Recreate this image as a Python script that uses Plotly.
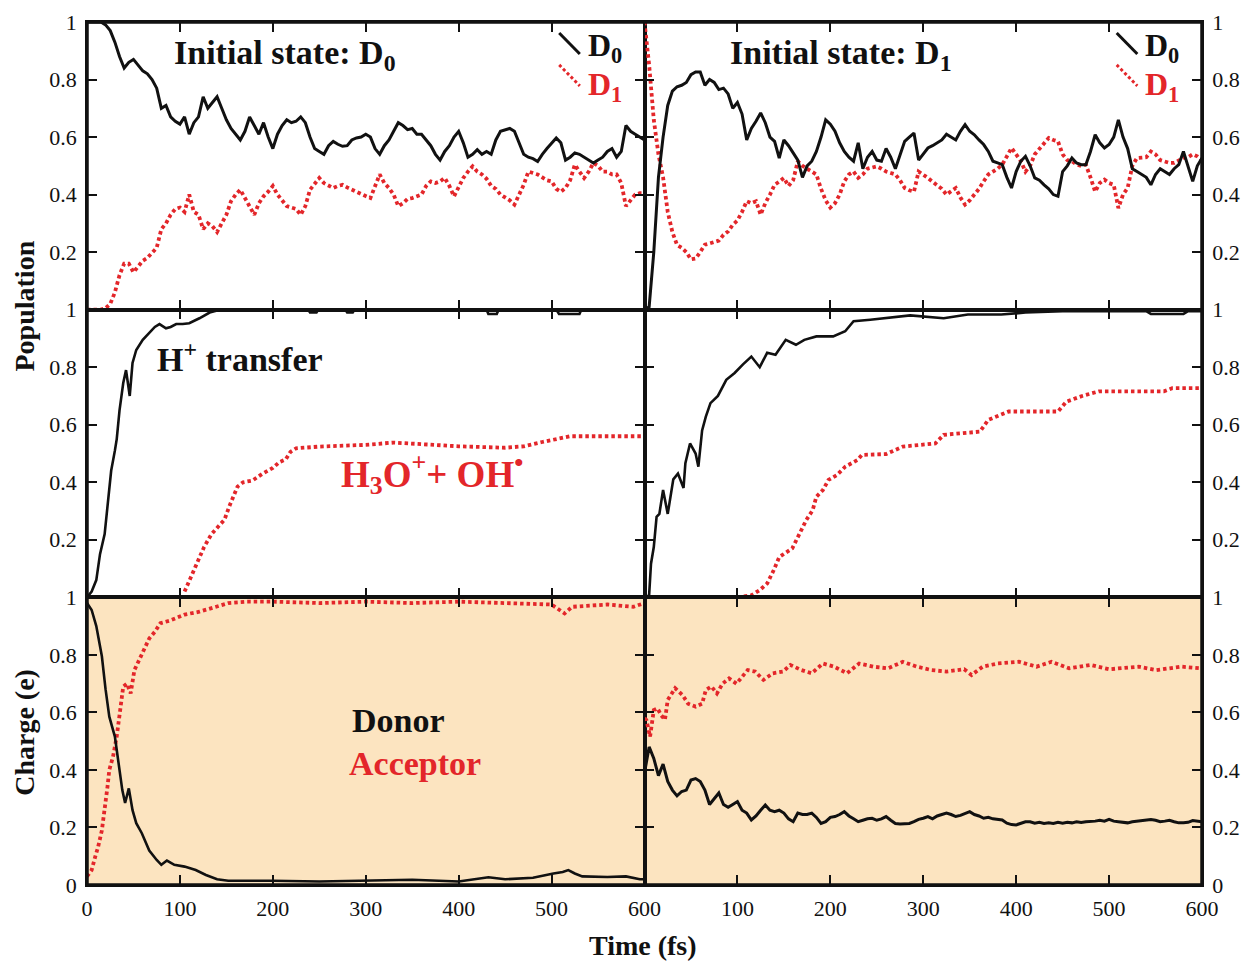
import plotly.graph_objects as go

# ---------------- data ----------------
TIME_5FS = list(range(0, 601, 5))

# Top row: populations, initial state D0 (left) and D1 (right), 5 fs grid
pop_D0_init_D0 = [1.0, 1.0, 1.0, 1.0, 0.99, 0.97, 0.93, 0.88, 0.84, 0.86,
                  0.87, 0.85, 0.83, 0.82, 0.80, 0.77, 0.70, 0.71, 0.67, 0.655,
                  0.645, 0.67, 0.61, 0.65, 0.67, 0.74, 0.70, 0.72, 0.74, 0.70,
                  0.66, 0.63, 0.61, 0.59, 0.62, 0.67, 0.64, 0.61, 0.65, 0.60,
                  0.56, 0.61, 0.64, 0.66, 0.65, 0.655, 0.67, 0.65, 0.60, 0.56,
                  0.55, 0.54, 0.57, 0.585, 0.575, 0.568, 0.57, 0.59, 0.597, 0.60,
                  0.61, 0.60, 0.56, 0.54, 0.57, 0.59, 0.62, 0.65, 0.64, 0.626,
                  0.63, 0.61, 0.61, 0.59, 0.57, 0.54, 0.52, 0.55, 0.57, 0.60,
                  0.62, 0.58, 0.53, 0.54, 0.556, 0.54, 0.55, 0.54, 0.59, 0.62,
                  0.625, 0.63, 0.62, 0.58, 0.54, 0.53, 0.525, 0.515, 0.54, 0.56,
                  0.58, 0.597, 0.58, 0.52, 0.53, 0.545, 0.54, 0.53, 0.52, 0.51,
                  0.52, 0.53, 0.55, 0.56, 0.53, 0.55, 0.64, 0.62, 0.61, 0.60,
                  0.59]
pop_D1_init_D0 = [0.0, 0.0, 0.0, 0.0, 0.005, 0.02, 0.06, 0.12, 0.16, 0.16,
                  0.13, 0.15, 0.17, 0.18, 0.20, 0.215, 0.28, 0.30, 0.33, 0.35,
                  0.355, 0.34, 0.40, 0.34, 0.33, 0.28, 0.30, 0.29, 0.27, 0.30,
                  0.33, 0.377, 0.40, 0.417, 0.39, 0.36, 0.33, 0.37, 0.394, 0.41,
                  0.43, 0.40, 0.38, 0.36, 0.355, 0.35, 0.33, 0.36, 0.417, 0.44,
                  0.458, 0.44, 0.43, 0.423, 0.43, 0.434, 0.425, 0.417, 0.41, 0.40,
                  0.395, 0.388, 0.43, 0.47, 0.44, 0.423, 0.40, 0.36, 0.37, 0.385,
                  0.388, 0.395, 0.40, 0.43, 0.446, 0.44, 0.446, 0.458, 0.43, 0.394,
                  0.43, 0.458, 0.48, 0.498, 0.48, 0.47, 0.455, 0.43, 0.42, 0.40,
                  0.39, 0.38, 0.365, 0.40, 0.434, 0.48, 0.475, 0.47, 0.46, 0.45,
                  0.446, 0.42, 0.41, 0.423, 0.45, 0.504, 0.48, 0.458, 0.48, 0.51,
                  0.50, 0.48, 0.48, 0.47, 0.47, 0.44, 0.36, 0.38, 0.40, 0.405,
                  0.405]
pop_D0_init_D1 = [0.0, 0.01, 0.20, 0.46, 0.60, 0.71, 0.76, 0.775, 0.78, 0.79,
                  0.817, 0.826, 0.826, 0.78, 0.80, 0.79, 0.765, 0.77, 0.75, 0.70,
                  0.72, 0.68, 0.59, 0.63, 0.655, 0.684, 0.65, 0.60, 0.585, 0.527,
                  0.59, 0.57, 0.545, 0.52, 0.46, 0.50, 0.516, 0.55, 0.60, 0.66,
                  0.645, 0.62, 0.58, 0.55, 0.53, 0.516, 0.58, 0.49, 0.53, 0.55,
                  0.52, 0.516, 0.56, 0.53, 0.49, 0.54, 0.585, 0.60, 0.614, 0.52,
                  0.54, 0.562, 0.57, 0.58, 0.59, 0.61, 0.60, 0.59, 0.62, 0.643,
                  0.62, 0.608, 0.59, 0.574, 0.55, 0.516, 0.51, 0.504, 0.46, 0.423,
                  0.48, 0.516, 0.533, 0.50, 0.458, 0.45, 0.434, 0.42, 0.40, 0.394,
                  0.48, 0.50, 0.527, 0.51, 0.504, 0.504, 0.55, 0.608, 0.58, 0.562,
                  0.574, 0.60, 0.66, 0.60, 0.56, 0.49, 0.48, 0.47, 0.46, 0.434,
                  0.47, 0.49, 0.48, 0.47, 0.49, 0.504, 0.55, 0.50, 0.446, 0.50,
                  0.527]
pop_D1_init_D1 = [1.0, 0.85, 0.66, 0.54, 0.46, 0.34, 0.27, 0.225, 0.215, 0.20,
                  0.175, 0.178, 0.20, 0.226, 0.23, 0.235, 0.24, 0.26, 0.272, 0.295,
                  0.31, 0.34, 0.377, 0.37, 0.377, 0.33, 0.37, 0.40, 0.434, 0.445,
                  0.458, 0.43, 0.45, 0.516, 0.50, 0.49, 0.48, 0.47, 0.42, 0.38,
                  0.355, 0.37, 0.40, 0.446, 0.47, 0.48, 0.458, 0.47, 0.49, 0.495,
                  0.498, 0.49, 0.48, 0.475, 0.47, 0.45, 0.423, 0.415, 0.41, 0.48,
                  0.47, 0.458, 0.445, 0.434, 0.42, 0.40, 0.41, 0.423, 0.39, 0.365,
                  0.38, 0.40, 0.42, 0.446, 0.47, 0.48, 0.49, 0.504, 0.53, 0.562,
                  0.54, 0.516, 0.48, 0.50, 0.54, 0.56, 0.58, 0.597, 0.59, 0.585,
                  0.54, 0.52, 0.516, 0.504, 0.50, 0.504, 0.46, 0.41, 0.44, 0.452,
                  0.44, 0.434, 0.353, 0.40, 0.423, 0.50, 0.527, 0.527, 0.53, 0.55,
                  0.54, 0.52, 0.516, 0.51, 0.51, 0.52, 0.527, 0.53, 0.54, 0.533,
                  0.52]

# Middle row: H+ transfer (black) and H3O+ + OH (red)
t_ht_init_D0 = [0, 5, 10, 14, 19, 23, 26, 30, 32, 35, 39, 42, 44, 46, 49, 53, 60, 67, 73, 78,
                85, 90, 96, 103, 110, 121, 132, 143, 160, 200, 238, 240, 247, 249, 278, 280,
                286, 288, 350, 430, 432, 441, 443, 480, 505, 508, 530, 532, 560, 600]
ht_init_D0 = [0, 0.02, 0.06, 0.15, 0.22, 0.34, 0.44, 0.51, 0.55, 0.65, 0.745, 0.79, 0.75, 0.70,
              0.815, 0.86, 0.895, 0.92, 0.94, 0.95, 0.935, 0.94, 0.95, 0.95, 0.953, 0.97, 0.99,
              1.0, 1.0, 1.0, 1.0, 0.99, 0.99, 1.0, 1.0, 0.99, 0.99, 1.0, 1.0, 1.0, 0.985, 0.985,
              1.0, 1.0, 1.0, 0.985, 0.985, 1.0, 1.0, 1.0]
t_h3o_init_D0 = [105, 112, 119, 126, 134, 141, 148, 153, 157, 162, 168, 178, 189, 200, 207,
                 214, 219, 225, 250, 300, 330, 357, 400, 450, 470, 490, 510, 520, 560, 600]
h3o_init_D0 = [0.02, 0.07, 0.117, 0.175, 0.22, 0.245, 0.27, 0.315, 0.35, 0.385, 0.40, 0.406,
               0.43, 0.45, 0.47, 0.48, 0.506, 0.518, 0.524, 0.53, 0.538, 0.532, 0.525, 0.52,
               0.525, 0.54, 0.555, 0.56, 0.56, 0.56]
t_ht_init_D1 = [0, 3, 5, 7, 10, 13, 16, 20, 25, 31, 36, 42, 44, 49, 55, 58, 62, 66, 71, 79,
                88, 97, 106, 115, 124, 132, 141, 152, 163, 172, 185, 203, 216, 225, 243, 260,
                286, 322, 348, 384, 410, 450, 500, 540, 545, 580, 585, 600]
ht_init_D1 = [0, 0, 0.01, 0.117, 0.175, 0.28, 0.29, 0.373, 0.29, 0.41, 0.43, 0.38, 0.466, 0.535,
              0.50, 0.454, 0.58, 0.628, 0.675, 0.70, 0.756, 0.78, 0.81, 0.837, 0.80, 0.85, 0.843,
              0.895, 0.878, 0.895, 0.907, 0.907, 0.925, 0.96, 0.965, 0.97, 0.98, 0.97, 0.983,
              0.983, 0.99, 0.995, 0.995, 0.995, 0.985, 0.985, 0.995, 0.995]
t_h3o_init_D1 = [100, 115, 124, 132, 139, 145, 159, 167, 174, 181, 185, 192, 198, 207, 216,
                 229, 234, 260, 278, 313, 322, 361, 370, 392, 445, 454, 471, 489, 559, 568, 600]
h3o_init_D1 = [0.0, 0.007, 0.025, 0.048, 0.094, 0.14, 0.17, 0.22, 0.268, 0.303, 0.35, 0.373,
               0.408, 0.425, 0.454, 0.477, 0.495, 0.498, 0.524, 0.535, 0.565, 0.576, 0.617,
               0.646, 0.646, 0.68, 0.70, 0.716, 0.716, 0.727, 0.727]

# Bottom row: charges on donor (black) and acceptor (red)
t_donor_init_D0 = [0, 5, 10, 16, 20, 24, 30, 34, 38, 41, 45, 49, 53, 59, 67, 75, 80, 86, 94, 105,
                   117, 128, 140, 152, 200, 250, 300, 350, 400, 432, 450, 480, 502, 512, 518,
                   525, 533, 560, 580, 595, 600]
donor_init_D0 = [0.98, 0.956, 0.90, 0.795, 0.68, 0.585, 0.516, 0.423, 0.33, 0.285, 0.336, 0.26,
                 0.215, 0.18, 0.12, 0.087, 0.07, 0.085, 0.07, 0.064, 0.052, 0.035, 0.02, 0.015,
                 0.015, 0.012, 0.015, 0.018, 0.012, 0.027, 0.02, 0.025, 0.04, 0.045, 0.052, 0.04,
                 0.03, 0.028, 0.03, 0.02, 0.02]
t_acc_init_D0 = [0, 5, 9, 12, 16, 18, 20, 22, 24, 28, 32, 34, 36, 39, 43, 47, 51, 55, 59, 63,
                 67, 73, 79, 90, 105, 121, 137, 152, 172, 200, 250, 300, 350, 400, 450, 500,
                 514, 522, 560, 588, 600]
acc_init_D0 = [0.03, 0.052, 0.10, 0.133, 0.19, 0.237, 0.28, 0.34, 0.40, 0.446, 0.516, 0.562,
               0.62, 0.69, 0.70, 0.666, 0.747, 0.776, 0.805, 0.83, 0.857, 0.88, 0.91, 0.92, 0.94,
               0.95, 0.967, 0.98, 0.985, 0.985, 0.98, 0.985, 0.98, 0.985, 0.98, 0.975, 0.944,
               0.967, 0.975, 0.967, 0.98]
donor_init_D1 = [0.39, 0.48, 0.44, 0.38, 0.42, 0.36, 0.33, 0.31, 0.325, 0.33,
                 0.365, 0.37, 0.36, 0.33, 0.28, 0.30, 0.32, 0.28, 0.27, 0.28,
                 0.29, 0.26, 0.25, 0.226, 0.24, 0.26, 0.278, 0.26, 0.255, 0.26,
                 0.25, 0.23, 0.22, 0.25, 0.245, 0.245, 0.25, 0.235, 0.214, 0.22,
                 0.235, 0.238, 0.245, 0.255, 0.24, 0.23, 0.22, 0.225, 0.23, 0.232,
                 0.225, 0.23, 0.238, 0.225, 0.214, 0.212, 0.214, 0.214, 0.22, 0.228,
                 0.232, 0.238, 0.23, 0.24, 0.245, 0.25, 0.245, 0.238, 0.242, 0.248,
                 0.255, 0.245, 0.24, 0.232, 0.235, 0.23, 0.228, 0.226, 0.215, 0.21,
                 0.209, 0.215, 0.22, 0.22, 0.215, 0.218, 0.214, 0.216, 0.214, 0.218,
                 0.215, 0.218, 0.216, 0.22, 0.217, 0.22, 0.22, 0.222, 0.225, 0.222,
                 0.228, 0.222, 0.22, 0.218, 0.216, 0.22, 0.222, 0.225, 0.228, 0.228,
                 0.225, 0.22, 0.222, 0.225, 0.22, 0.216, 0.216, 0.218, 0.224, 0.222,
                 0.22]
t_acc_init_D1 = [0, 2, 6, 10, 14, 18, 22, 25, 33, 41, 47, 55, 62, 66, 72, 78, 84, 91, 99, 111,
                 119, 128, 138, 149, 157, 169, 180, 192, 204, 218, 231, 246, 262, 278, 293, 309,
                 325, 344, 352, 364, 380, 403, 422, 438, 457, 480, 500, 532, 551, 578, 600]
acc_init_D1 = [0.58, 0.574, 0.516, 0.608, 0.614, 0.59, 0.574, 0.643, 0.684, 0.66, 0.63, 0.62,
               0.63, 0.678, 0.69, 0.666, 0.70, 0.718, 0.70, 0.747, 0.742, 0.713, 0.736, 0.742,
               0.765, 0.747, 0.736, 0.77, 0.759, 0.736, 0.77, 0.759, 0.753, 0.776, 0.759, 0.747,
               0.742, 0.75, 0.73, 0.759, 0.77, 0.776, 0.759, 0.776, 0.753, 0.765, 0.75, 0.759,
               0.747, 0.759, 0.753]

X_TICKS = [0, 100, 200, 300, 400, 500, 600]
X_LABELS_LEFT = ["0", "100", "200", "300", "400", "500", "600"]
X_LABELS_RIGHT = ["", "100", "200", "300", "400", "500", "600"]
Y_TICKS = [0, 0.2, 0.4, 0.6, 0.8, 1.0]
Y_LABELS_UPPER = ["", "0.2", "0.4", "0.6", "0.8", "1"]
Y_LABELS_BOTTOM = ["0", "0.2", "0.4", "0.6", "0.8", "1"]

# ---------------- style ----------------
BLACK = "#111111"
RED = "#E3262A"
BG_CHARGE = "#FCE4C0"
FONT = "Liberation Serif, Times New Roman, serif"
RED_DASH = "3.5px,3px"

fig = go.Figure()


def black_line(x, y, xa, ya, w=3.0):
    fig.add_trace(go.Scatter(x=x, y=y, mode="lines", xaxis=xa, yaxis=ya,
                             line=dict(color=BLACK, width=w), showlegend=False,
                             hoverinfo="skip"))


def red_dots(x, y, xa, ya):
    fig.add_trace(go.Scatter(x=x, y=y, mode="lines", xaxis=xa, yaxis=ya,
                             line=dict(color=RED, width=3.8, dash=RED_DASH),
                             showlegend=False, hoverinfo="skip"))


# top row
red_dots(TIME_5FS, pop_D1_init_D0, "x", "y")
black_line(TIME_5FS, pop_D0_init_D0, "x", "y")
red_dots(TIME_5FS, pop_D1_init_D1, "x2", "y2")
black_line(TIME_5FS, pop_D0_init_D1, "x2", "y2")
# middle row
red_dots(t_h3o_init_D0, h3o_init_D0, "x3", "y3")
black_line(t_ht_init_D0, ht_init_D0, "x3", "y3", 2.6)
red_dots(t_h3o_init_D1, h3o_init_D1, "x4", "y4")
black_line(t_ht_init_D1, ht_init_D1, "x4", "y4", 2.6)
# bottom row
red_dots(t_acc_init_D0, acc_init_D0, "x5", "y5")
black_line(t_donor_init_D0, donor_init_D0, "x5", "y5", 2.6)
red_dots(t_acc_init_D1, acc_init_D1, "x6", "y6")
black_line(TIME_5FS, donor_init_D1, "x6", "y6", 3.0)

tickfont = dict(family=FONT, size=22, color=BLACK)
rows_y = [[2 / 3, 1.0], [1 / 3, 2 / 3], [0.0, 1 / 3]]
layout = {}
for r in range(3):
    for c in range(2):
        idx = r * 2 + c + 1
        sfx = "" if idx == 1 else str(idx)
        xa = dict(domain=[0, 0.5] if c == 0 else [0.5, 1.0], anchor="y" + sfx,
                  range=[0, 600], tickmode="array", tickvals=X_TICKS,
                  ticktext=X_LABELS_LEFT if c == 0 else X_LABELS_RIGHT,
                  showticklabels=(r == 2), ticks="inside", ticklen=10, tickwidth=1.5,
                  tickcolor=BLACK, showline=True, linewidth=1.5, linecolor=BLACK,
                  mirror="ticks", showgrid=False, zeroline=False, tickfont=tickfont,
                  ticklabelstandoff=3, automargin=False, fixedrange=True)
        ya = dict(domain=rows_y[r], anchor="x" + sfx, range=[0, 1], tickmode="array",
                  tickvals=Y_TICKS,
                  ticktext=Y_LABELS_BOTTOM if r == 2 else Y_LABELS_UPPER,
                  side="left" if c == 0 else "right",
                  ticks="inside", ticklen=10, tickwidth=1.5, tickcolor=BLACK,
                  showline=True, linewidth=1.5, linecolor=BLACK, mirror="ticks",
                  showgrid=False, zeroline=False, tickfont=tickfont,
                  ticklabelstandoff=4, automargin=False, fixedrange=True)
        layout["xaxis" + sfx] = xa
        layout["yaxis" + sfx] = ya

shapes = []
for xr, yr in (("x5", "y5"), ("x6", "y6")):
    shapes.append(dict(type="rect", xref=xr + " domain", yref=yr + " domain",
                       x0=0, x1=1, y0=0, y1=1, fillcolor=BG_CHARGE,
                       line=dict(width=0), layer="below"))
shapes.append(dict(type="rect", xref="paper", yref="paper", x0=0, x1=1, y0=0, y1=1,
                   line=dict(color=BLACK, width=3.5), layer="above"))
shapes.append(dict(type="line", xref="paper", yref="paper", x0=0, x1=1, y0=1 / 3, y1=1 / 3,
                   line=dict(color=BLACK, width=3.5), layer="above"))
# in-panel legend keys
for xr, yr in (("x", "y"), ("x2", "y2")):
    shapes.append(dict(type="line", xref=xr + " domain", yref=yr + " domain",
                       x0=0.847, x1=0.884, y0=0.962, y1=0.889,
                       line=dict(color=BLACK, width=3)))
    shapes.append(dict(type="line", xref=xr + " domain", yref=yr + " domain",
                       x0=0.847, x1=0.884, y0=0.851, y1=0.778,
                       line=dict(color=RED, width=3, dash="3px,2.5px")))

ann = []


def label(text, xr, yr, x, y, color=BLACK, size=34, xanchor="left"):
    ann.append(dict(text=text, xref=xr, yref=yr, x=x, y=y, xanchor=xanchor,
                    yanchor="middle", showarrow=False,
                    font=dict(family=FONT, size=size, color=color, weight="bold")))


label("Initial state: D<sub>0</sub>", "x domain", "y domain", 0.152, 0.885)
label("Initial state: D<sub>1</sub>", "x2 domain", "y2 domain", 0.149, 0.885)
for xr, yr in (("x domain", "y domain"), ("x2 domain", "y2 domain")):
    label("D<sub>0</sub>", xr, yr, 0.895, 0.91, size=32)
    label("D<sub>1</sub>", xr, yr, 0.895, 0.775, color=RED, size=32)
label("H<sup>+</sup> transfer", "x3 domain", "y3 domain", 0.122, 0.835)
label("H<sub>3</sub>O<sup>+</sup>+ OH<sup>\u2022</sup>", "x3 domain", "y3 domain", 0.452, 0.43,
      color=RED, size=37)
label("Donor", "x5 domain", "y5 domain", 0.472, 0.573)
label("Acceptor", "x5 domain", "y5 domain", 0.466, 0.424, color=RED)

ann.append(dict(text="Population", xref="paper", yref="paper", x=-0.056, y=0.671,
                xanchor="center", yanchor="middle", textangle=-90, showarrow=False,
                font=dict(family=FONT, size=28, color=BLACK, weight="bold")))
ann.append(dict(text="Charge (e)", xref="paper", yref="paper", x=-0.056, y=0.177,
                xanchor="center", yanchor="middle", textangle=-90, showarrow=False,
                font=dict(family=FONT, size=28, color=BLACK, weight="bold")))
ann.append(dict(text="Time (fs)", xref="paper", yref="paper", x=0.4987, y=-0.07,
                xanchor="center", yanchor="middle", showarrow=False,
                font=dict(family=FONT, size=28, color=BLACK, weight="bold")))

fig.update_layout(width=1243, height=962, margin=dict(l=87, r=41, t=22, b=77, autoexpand=False),
                  paper_bgcolor="white", plot_bgcolor="white", showlegend=False,
                  shapes=shapes, annotations=ann, **layout)

fig.write_html("out.html", config={"displayModeBar": False},
               post_script="document.body.style.margin='0';"
                           "document.body.style.overflow='hidden';")
